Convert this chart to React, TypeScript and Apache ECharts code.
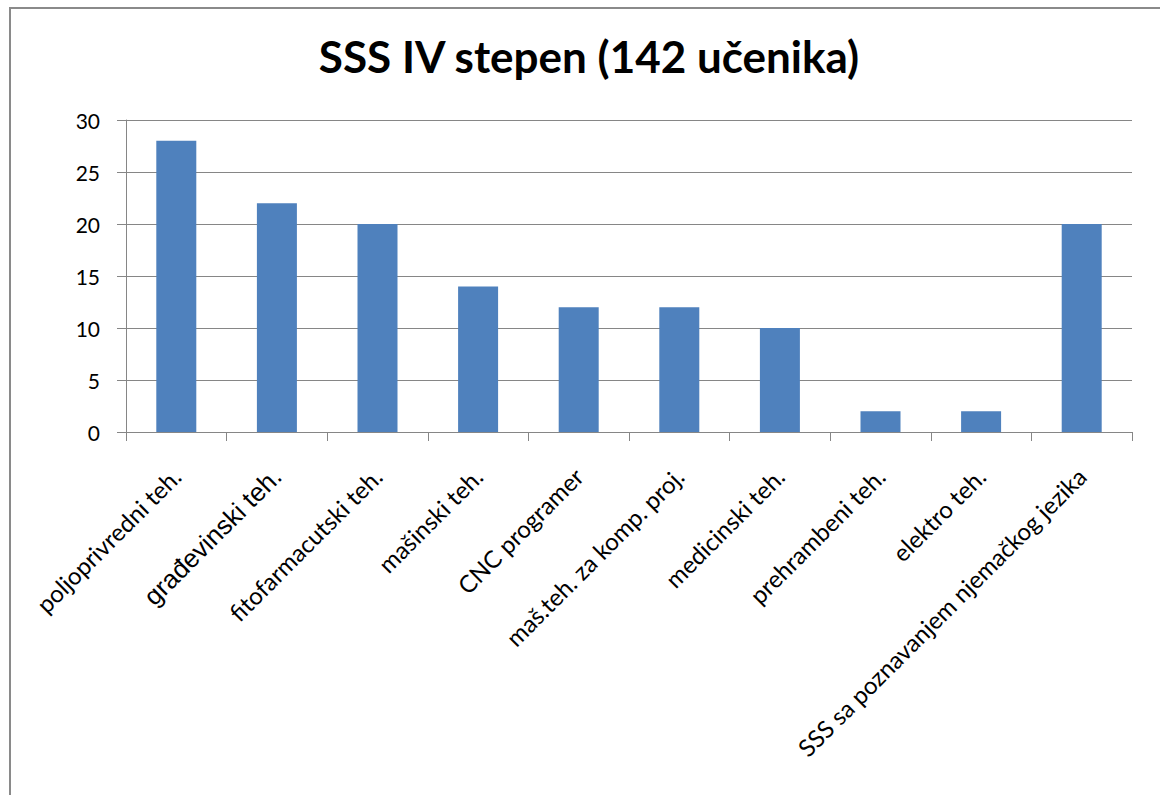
import React, { useEffect, useRef } from "react";
import * as echarts from "echarts";

const titleText = "SSS IV stepen (142 učenika)";
const categories = [
  "poljoprivredni teh.",
  "građevinski teh.",
  "fitofarmacutski teh.",
  "mašinski teh.",
  "CNC programer",
  "maš.teh. za komp. proj.",
  "medicinski teh.",
  "prehrambeni teh.",
  "elektro teh.",
  "SSS sa poznavanjem njemačkog jezika",
];
const values = [28, 22, 20, 14, 12, 12, 10, 2, 2, 20];
const yTicks = { min: 0, max: 30, interval: 5 };

export default function App() {
  const ref = useRef<HTMLDivElement>(null);
  useEffect(() => {
    if (!ref.current) return;
    const chart = echarts.init(ref.current, null, { renderer: "svg" });
    const font = "Lato, 'Open Sans', sans-serif";
    chart.setOption({
      animation: false,
      backgroundColor: "#ffffff",
      title: {
        text: titleText,
        left: 584,
        top: 29,
        textAlign: "center",
        textStyle: { fontFamily: font, fontWeight: "bold", fontSize: 44, color: "#000" },
      },
      graphic: [
        {
          type: "rect",
          shape: { x: 10, y: 8, width: 1300, height: 1000 },
          style: { fill: "none", stroke: "#8a8a8a", lineWidth: 2 },
          silent: true,
        },
      ],
      grid: { left: 126, right: 28, top: 120, bottom: 363, containLabel: false },
      xAxis: {
        type: "category",
        data: categories,
        axisLine: { lineStyle: { color: "#868686", width: 1 } },
        axisTick: { show: true, length: 9, inside: false, lineStyle: { color: "#868686" } },
        axisLabel: {
          rotate: 45,
          interval: 0,
          margin: 40,
          color: "#000",
          fontFamily: font,
          fontSize: 24,
          formatter: (v: string) => (v.startsWith("gra") ? "{a|" + v + "}" : v),
          rich: {
            a: { fontFamily: "'Liberation Sans', Arial, sans-serif", fontSize: 26, color: "#000" },
          },
        },
        splitLine: { show: false },
      },
      yAxis: {
        type: "value",
        min: yTicks.min,
        max: yTicks.max,
        interval: yTicks.interval,
        axisLine: { show: true, lineStyle: { color: "#868686", width: 1 } },
        axisTick: { show: true, length: 9, lineStyle: { color: "#868686" } },
        axisLabel: { color: "#000", fontFamily: font, fontSize: 21, margin: 26 },
        splitLine: { show: true, lineStyle: { color: "#868686", width: 1 } },
      },
      series: [
        {
          type: "bar",
          data: values,
          barWidth: 40,
          itemStyle: { color: "#4F81BD" },
        },
      ],
    });
    return () => chart.dispose();
  }, []);
  return (
    <div
      ref={ref}
      style={{ position: "fixed", left: 0, top: 0, width: 1160, height: 795 }}
    />
  );
}
